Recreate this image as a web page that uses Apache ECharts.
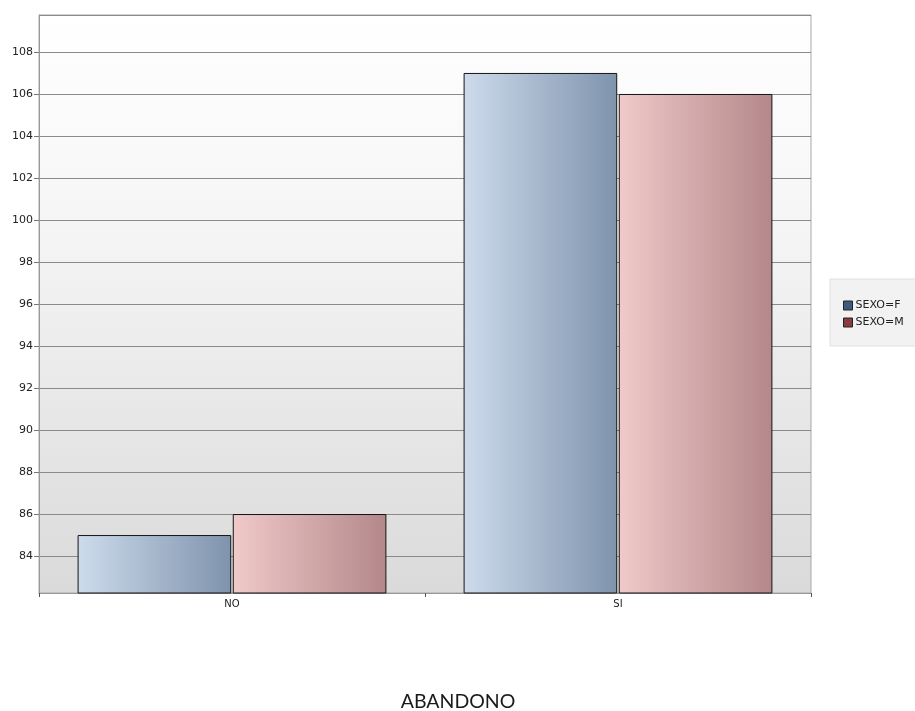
<!DOCTYPE html>
<html>
<head>
<meta charset="utf-8">
<script src="https://cdn.jsdelivr.net/npm/echarts@6/dist/echarts.min.js"></script>
<style>
  html, body { margin: 0; padding: 0; background: #fff; }
  #chart { width: 915px; height: 711px; }
</style>
</head>
<body>
<div id="chart"></div>
<script>
// Abandono by sex: counts per category
const categories = ['NO', 'SI'];
const seriesNames = ['SEXO=F', 'SEXO=M'];
const valuesF = [85, 107];
const valuesM = [86, 106];
const axisTitle = 'ABANDONO';
const yMin = 82.24;
const yMax = 109.76;

const chart = echarts.init(document.getElementById('chart'));

const grad = (a, b) => new echarts.graphic.LinearGradient(0, 0, 1, 0, [
  { offset: 0, color: a }, { offset: 1, color: b }
]);

const barStyle = (c1, c2) => ({
  color: grad(c1, c2),
  borderColor: '#151515',
  borderWidth: 1
});

chart.setOption({
  animation: false,
  backgroundColor: '#ffffff',
  title: {
    text: axisTitle,
    left: 453,
    top: 687,
    textAlign: 'center',
    textStyle: { fontFamily: 'Lato, Carlito, sans-serif', fontSize: 19.5, fontWeight: 'normal', color: '#1a1a1a' }
  },
  legend: {
    orient: 'vertical',
    left: 830,
    top: 279,
    padding: [21, 30, 18, 13],
    itemGap: 6,
    itemWidth: 9,
    itemHeight: 9,
    icon: 'rect',
    backgroundColor: '#f2f2f2',
    borderColor: '#e0e0e0',
    borderWidth: 1,
    textStyle: { fontFamily: 'DejaVu Sans, Verdana, sans-serif', fontSize: 11, color: '#222', padding: [0, 0, 0, -2] },
    data: [
      { name: seriesNames[0], itemStyle: { color: '#3e5b7d', borderColor: '#222', borderWidth: 1 } },
      { name: seriesNames[1], itemStyle: { color: '#8c3b3e', borderColor: '#222', borderWidth: 1 } }
    ]
  },
  grid: {
    left: 39, right: 104, top: 15, bottom: 118,
    show: true,
    borderColor: '#a8a8a8',
    borderWidth: 1,
    backgroundColor: new echarts.graphic.LinearGradient(0, 0, 0, 1, [
      { offset: 0, color: '#ffffff' },
      { offset: 0.35, color: '#f6f6f6' },
      { offset: 1, color: '#dadada' }
    ])
  },
  xAxis: {
    type: 'category',
    data: categories,
    axisLine: { lineStyle: { color: '#999', width: 1 } },
    axisTick: { show: true, length: 4, lineStyle: { color: '#555' } },
    axisLabel: { fontFamily: 'DejaVu Sans, Verdana, sans-serif', fontSize: 10, color: '#222', margin: 6 }
  },
  yAxis: {
    type: 'value',
    min: yMin,
    max: yMax,
    splitNumber: 14,
    axisLine: { show: true, lineStyle: { color: '#999', width: 1 } },
    axisTick: { show: true, length: 5, lineStyle: { color: '#777' } },
    axisLabel: {
      fontFamily: 'DejaVu Sans, Verdana, sans-serif', fontSize: 11, color: '#222', margin: 6,
      showMinLabel: false, showMaxLabel: false
    },
    splitLine: { show: true, lineStyle: { color: '#8a8a8a', width: 1 } }
  },
  series: [
    {
      name: seriesNames[0], type: 'bar', data: valuesF,
      barCategoryGap: '20%', barGap: '1%',
      itemStyle: barStyle('#cddbec', '#7f93ad')
    },
    {
      name: seriesNames[1], type: 'bar', data: valuesM,
      barCategoryGap: '20%', barGap: '1%',
      itemStyle: barStyle('#f0c9c9', '#b4888a')
    }
  ]
});
</script>
</body>
</html>
